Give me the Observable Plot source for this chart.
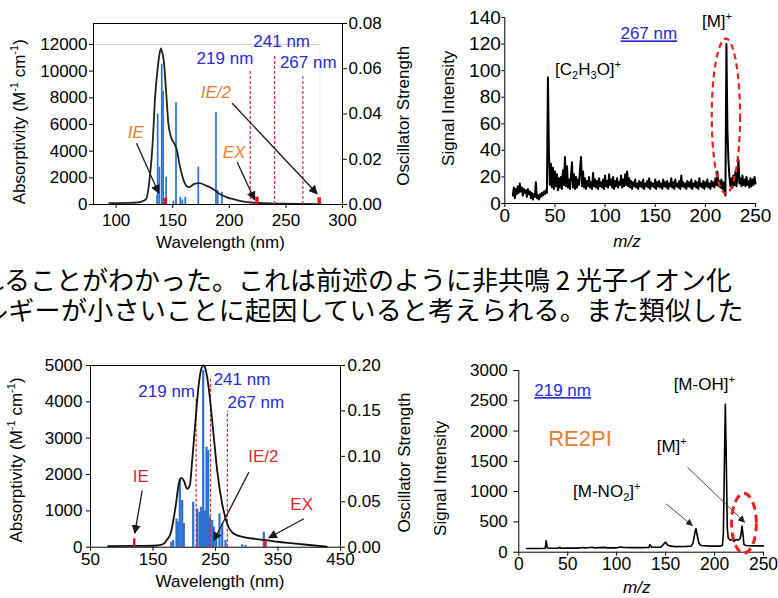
<!DOCTYPE html>
<html><head><meta charset="utf-8">
<script src="https://cdn.jsdelivr.net/npm/d3@7"></script>
<script src="https://cdn.jsdelivr.net/npm/@observablehq/plot@0.6"></script>
<style>
body{margin:0;background:#fff;}
#wrap{position:relative;width:778px;height:598px;overflow:hidden;background:#fff;}
#wrap svg{position:absolute;}
</style></head><body><div id="wrap"></div>
<script>
// ---------- Chart 1 (top-left): absorption spectrum + oscillator strengths ----------
const abs1Nm  = [94,110,118,122,126.5,129.4,132.4,134.4,136.8,137.8,139.5,141,142.1,144.1,146.2,148.5,151.5,153.8,155.9,158.8,161.8,164.7,169.1,173.5,179.4,185.3,191.1,198.5,204.4,210.3,222,248.5,281];
const abs1Val = [100,120,150,200,400,1800,4790,8030,10280,11000,11700,11300,10780,8530,6040,5040,4540,4040,3050,2040,1420,1300,1550,1600,1420,1180,800,520,380,250,130,60,30];
const osc1Nm  = [136.2,136.7,138.2,140.3,141.5,144.1,150.6,152.9,156.7,158.5,161.1,172.6,188.2,189.7,193.5];
const osc1Val = [0.004,0.040,0.0165,0.062,0.050,0.012,0.0015,0.045,0.0032,0.002,0.0032,0.0165,0.0407,0.0062,0.0054];
const laser1Nm  = [218.5,240,265];          // 219, 241, 267 nm
const laser1Top = [10100,11150,9580];
const mark1Nm  = [143.5,224.4,279.4];       // IE, EX, IE/2
const mark1Val = [470,550,500];
const c1XTicks = [100,150,200,250,300];
const c1YTicks = [0,2000,4000,6000,8000,10000,12000];
const c1OscTicks = [0,0.02,0.04,0.06,0.08];

// ---------- Chart 2 (top-right): mass spectrum at 267 nm (m/z 8..250, step 1) ----------
const ms267Start = 8;
const ms267Val = [
 6,12,4,11,7,13,8,15,9,12,6,11,8,
 10,5,11,7,9,4,8,3,7,5,
 16,4,6,3,7,5,8,6,9,7,10,8,
 95,
 38,14,30,12,27,11,24,
 13,22,10,19,12,20,11,25,14,35,
 13,28,12,18,11,21,31,12,22,11,
 20,12,18,14,26,35,13,24,12,19,
 11,17,13,20,12,16,11,23,13,18,
 12,17,11,19,13,16,12,18,11,21,
 13,17,12,22,14,18,12,20,11,17,
 13,19,12,16,14,21,12,18,13,22,
 14,24,13,19,12,17,11,16,13,18,
 12,15,11,17,13,16,12,18,11,15,
 13,17,12,19,11,16,13,15,12,18,
 11,16,13,17,12,15,11,18,13,16,
 12,17,11,15,13,19,12,16,11,18,
 13,15,12,17,11,21,13,16,12,15,
 11,17,13,16,12,18,11,15,13,17,
 12,16,11,19,13,15,12,17,11,16,
 13,18,12,15,11,17,13,16,12,19,
 14,24,13,17,12,18,11,16,9,6,
 120,
 55,33,20,13,19,12,21,14,24,
 13,20,33,15,19,13,21,14,18,13,
 20,14,17,12,19,13,18,14,20,15];
const c2XTicks = [0,50,100,150,200,250];
const c2YTicks = [0,20,40,60,80,100,120,140];

// ---------- Chart 3 (bottom-left): absorption spectrum + oscillator strengths ----------
const abs3Nm  = [78,120,150,160,167.3,172,178,186,191.3,195,199.3,204.7,208.9,212.7,218,223.3,228,230.5,233,236.7,242,247.3,252.7,260.7,268.7,279.3,295.3,327.3,348.7,370,400,428];
const abs3Val = [30,35,40,55,94,200,369,1100,1745,1910,1835,1607,1698,2386,3487,4496,4950,5000,4950,4678,3946,3027,2110,1194,644,369,275,204,150,110,60,18];
const osc3Nm  = [179.1,182.3,187.6,189.7,192.9,196.7,199.3,214.3,220.7,224.4,227.1,230.3,232.9,235.6,238.3,240.9,244.7,247.3,251.1,256.4,260.7,266,292.7,298,327.3];
const osc3Val = [0.0055,0.0074,0.031,0.0275,0.075,0.0514,0.026,0.0495,0.042,0.0385,0.044,0.1945,0.040,0.110,0.1064,0.033,0.0294,0.022,0.0129,0.0367,0.0257,0.0074,0.0026,0.002,0.0165];
const laser3Nm  = [219,242,269];
const laser3Top = [4128,4634,3743];
const mark3Nm  = [120,330];                 // IE, EX
const mark3Val = [230,180];
const c3XTicks = [50,150,250,350,450];
const c3YTicks = [0,1000,2000,3000,4000,5000];
const c3OscTicks = [0,0.05,0.10,0.15,0.20];

// ---------- Chart 4 (bottom-right): mass spectrum at 219 nm ----------
const ms219Mz  = [8,20,27,28,29,30,40,42,43,50,60,66,68,75,77,88,90,100,104,107,115,125,133,134,136,145,149,150,152,155,160,170,176,178,180,181,182,184,186,195,205,208,209,210,211,212,213,214,216,218,220,222,224,226,227,228,229,230,232,240,250];
const ms219Val = [60,62,65,190,80,65,66,80,66,68,68,78,70,82,72,80,72,72,85,78,75,75,80,125,82,82,150,165,120,100,92,95,100,150,330,390,300,150,110,100,100,110,300,1400,2440,1500,400,230,200,210,180,210,200,220,300,430,300,130,110,105,105];
const c4XTicks = [0,50,100,150,200,250];
const c4YTicks = [0,500,1000,1500,2000,2500,3000];

// ---------- texts ----------
const jpLine1 = "れることがわかった。これは前述のように非共鳴 2 光子イオン化";
const jpLine2 = "ルギーが小さいことに起因していると考えられる。また類似した";

// =====================================================================
const FONT = "'Liberation Sans', Arial, Helvetica, sans-serif";
const STICK = "#2a6fd4";
const LRED = "#e3262b";
const ORANGE = "#ee7b30";
const TBLUE = "#2a2ad8";
const wrap = document.getElementById("wrap");
const NS = "http://www.w3.org/2000/svg";

function place(svg, left, top) {
  svg.style.left = left + "px"; svg.style.top = top + "px";
  wrap.appendChild(svg); return svg;
}
function zip(a, b, ka, kb) { return a.map((v, i) => ({[ka]: v, [kb]: b[i]})); }
function arrowheads(svg, color, size) {
  const id = "ah" + Math.random().toString(36).slice(2);
  const defs = document.createElementNS(NS, "defs");
  defs.innerHTML = `<marker id="${id}" viewBox="0 0 10 10" refX="9" refY="5" markerWidth="${size}" markerHeight="${size}" markerUnits="userSpaceOnUse" orient="auto"><path d="M0,0L10,5L0,10z" fill="${color}"/></marker>`;
  svg.insertBefore(defs, svg.firstChild);
  svg.querySelectorAll('g[aria-label="link"] path, g[aria-label="link"] line').forEach(p => p.setAttribute("marker-end", `url(#${id})`));
}
function ellipse(svg, x1, x2, y1, y2, sw, dash) {
  const sx = svg.scale("x"), sy = svg.scale("y");
  const a = sx.apply(x1), b = sx.apply(x2), c = sy.apply(y1), d = sy.apply(y2);
  const e = document.createElementNS(NS, "ellipse");
  e.setAttribute("cx", (a + b) / 2); e.setAttribute("cy", (c + d) / 2);
  e.setAttribute("rx", Math.abs(b - a) / 2); e.setAttribute("ry", Math.abs(d - c) / 2);
  e.setAttribute("fill", "none"); e.setAttribute("stroke", "#e82222");
  e.setAttribute("stroke-width", sw); e.setAttribute("stroke-dasharray", dash);
  svg.appendChild(e);
}
const baseStyle = {fontFamily: FONT, color: "#000", background: "transparent", overflow: "visible"};

// ----- Chart 1 -----
const k1 = 13570 / 0.08;
const p1 = place(Plot.plot({
  width: 390, height: 225, marginLeft: 93, marginRight: 48, marginTop: 23, marginBottom: 21,
  style: baseStyle,
  x: {domain: [80, 300]}, y: {domain: [0, 13570]},
  marks: [
    Plot.ruleY([12000], {x1: 80, x2: 280, stroke: "#cfcfcf"}),
    Plot.ruleX([280], {y1: 0, y2: 12000, stroke: "#ececec"}),
    Plot.ruleX(zip(osc1Nm, osc1Val, "nm", "f"), {x: "nm", y1: 0, y2: d => d.f * k1, stroke: STICK, strokeWidth: 1.7}),
    Plot.line(zip(abs1Nm, abs1Val, "nm", "v"), {x: "nm", y: "v", stroke: "#222", strokeWidth: 1.8, curve: "monotone-x"}),
    Plot.ruleX(zip(laser1Nm, laser1Top, "nm", "t"), {x: "nm", y1: 0, y2: "t", stroke: LRED, strokeWidth: 1.2, strokeDasharray: "3,2"}),
    Plot.ruleX(zip(mark1Nm, mark1Val, "nm", "v"), {x: "nm", y1: 0, y2: "v", stroke: "#e8141c", strokeWidth: 3.5}),
    Plot.link([{x1: 118, y1: 4596, x2: 137.7, y2: 847}, {x1: 207, y1: 3171, x2: 222.3, y2: 352}, {x1: 202.5, y1: 7594, x2: 277.6, y2: 802}],
      {x1: "x1", y1: "y1", x2: "x2", y2: "y2", stroke: "#1a1a1a", strokeWidth: 1.3}),
    Plot.frame({stroke: "#000"}),
    Plot.axisX({ticks: c1XTicks, tickSize: 4, tickPadding: 5, tickFormat: "d", label: null, fontSize: 17}),
    Plot.axisY({ticks: c1YTicks, tickSize: 4, tickPadding: 2, tickFormat: "d", label: null, fontSize: 17}),
    Plot.axisY({anchor: "right", ticks: c1OscTicks.map(v => v * k1), tickFormat: d => (d / k1).toFixed(2), tickSize: 4, tickPadding: 2, label: null, fontSize: 17})
  ]
}), 0, 0);
arrowheads(p1, "#1a1a1a", 9);

// ----- Chart 2 -----
const p2 = place(Plot.plot({
  width: 388, height: 225, marginLeft: 114.3, marginRight: 23, marginTop: 17, marginBottom: 22,
  style: baseStyle,
  x: {domain: [0, 250]}, y: {domain: [0, 140]},
  marks: [
    Plot.line(ms267Val.map((v, i) => ({mz: ms267Start + i, v})), {x: "mz", y: "v", stroke: "#000", strokeWidth: 2}),
    Plot.ruleX([0], {stroke: "#000"}),
    Plot.ruleY([0], {stroke: "#000"}),
    Plot.axisX({ticks: c2XTicks, tickSize: 4, tickPadding: 1, tickFormat: "d", label: null, fontSize: 19}),
    Plot.axisY({ticks: c2YTicks, tickSize: 3, tickPadding: 1, tickFormat: "d", label: null, fontSize: 19})
  ]
}), 390, 0);
ellipse(p2, 206.9, 235.1, 7.1, 123.7, 2.2, "6,4");

// ----- Chart 3 -----
const k3 = 5000 / 0.2;
const p3 = place(Plot.plot({
  width: 390, height: 258, marginLeft: 90, marginRight: 50, marginTop: 25, marginBottom: 51.3,
  style: baseStyle,
  x: {domain: [50, 450]}, y: {domain: [0, 5000]},
  marks: [
    Plot.ruleX(zip(osc3Nm, osc3Val, "nm", "f"), {x: "nm", y1: 0, y2: d => d.f * k3, stroke: STICK, strokeWidth: 2.2}),
    Plot.ruleX(zip(laser3Nm, laser3Top, "nm", "t"), {x: "nm", y1: 0, y2: "t", stroke: LRED, strokeWidth: 1.2, strokeDasharray: "3,2"}),
    Plot.line(zip(abs3Nm, abs3Val, "nm", "v"), {x: "nm", y: "v", stroke: "#111", strokeWidth: 1.8, curve: "monotone-x"}),
    Plot.ruleX(zip(mark3Nm, mark3Val, "nm", "v"), {x: "nm", y1: 0, y2: "v", stroke: "#e8141c", strokeWidth: 2.5}),
    Plot.link([{x1: 132.7, y1: 1560, x2: 120.9, y2: 385}, {x1: 303.3, y1: 2064, x2: 247.3, y2: 184}, {x1: 391.3, y1: 782, x2: 335.3, y2: 259}],
      {x1: "x1", y1: "y1", x2: "x2", y2: "y2", stroke: "#1a1a1a", strokeWidth: 1.3}),
    Plot.frame({stroke: "#000"}),
    Plot.axisX({ticks: c3XTicks, tickSize: 4, tickPadding: 2, tickFormat: "d", label: null, fontSize: 17}),
    Plot.axisY({ticks: c3YTicks, tickSize: 4, tickPadding: 4, tickFormat: "d", label: null, fontSize: 17}),
    Plot.axisY({anchor: "right", ticks: c3OscTicks.map(v => v * k3), tickFormat: d => (d / k3).toFixed(2), tickSize: 4, tickPadding: 3, label: null, fontSize: 17})
  ]
}), 0, 340);
arrowheads(p3, "#1a1a1a", 9);

// ----- Chart 4 -----
const p4 = place(Plot.plot({
  width: 388, height: 258, marginLeft: 128.3, marginRight: 15, marginTop: 30, marginBottom: 46.3,
  style: baseStyle,
  x: {domain: [0, 250]}, y: {domain: [0, 3000]},
  marks: [
    Plot.line(zip(ms219Mz, ms219Val, "mz", "v"), {x: "mz", y: "v", stroke: "#000", strokeWidth: 1.6}),
    Plot.link([{x1: 150.4, y1: 799, x2: 177.3, y2: 441}, {x1: 172.3, y1: 1403, x2: 230.7, y2: 495}],
      {x1: "x1", y1: "y1", x2: "x2", y2: "y2", stroke: "#333", strokeWidth: 0.9}),
    Plot.ruleX([0], {stroke: "#000"}),
    Plot.ruleY([0], {stroke: "#000"}),
    Plot.axisX({ticks: c4XTicks, tickSize: 4, tickPadding: 1, tickFormat: "d", label: null, fontSize: 17.5}),
    Plot.axisY({ticks: c4YTicks, tickSize: 5, tickPadding: 6, tickFormat: "d", label: null, fontSize: 17})
  ]
}), 390, 340);
arrowheads(p4, "#222", 7);
ellipse(p4, 217.9, 243.2, -26, 964, 3, "8,5");

// ----- overlay texts -----
const ov = document.createElementNS(NS, "svg");
ov.setAttribute("width", 778); ov.setAttribute("height", 598);
ov.style.cssText = "left:0;top:0;overflow:visible;pointer-events:none";
wrap.appendChild(ov);

function addText(x, y, parts, o = {}) {
  const fs = o.size || 17;
  const t = document.createElementNS(NS, "text");
  t.setAttribute("font-family", o.font || FONT);
  t.setAttribute("font-size", fs);
  t.setAttribute("fill", o.color || "#000");
  t.setAttribute("text-anchor", o.anchor || "middle");
  if (o.italic) t.setAttribute("font-style", "italic");
  if (o.underline) t.setAttribute("text-decoration", "underline");
  if (o.spacing) t.setAttribute("letter-spacing", o.spacing);
  if (o.rotate) { t.setAttribute("transform", `translate(${x},${y}) rotate(${o.rotate})`); t.setAttribute("x", 0); t.setAttribute("y", 0); }
  else { t.setAttribute("x", x); t.setAttribute("y", y); }
  let shift = 0;
  const list = Array.isArray(parts) ? parts : [[parts]];
  for (const [s, kind] of list) {
    const ts = document.createElementNS(NS, "tspan");
    const target = kind === "sup" ? -0.42 * fs : kind === "sub" ? 0.25 * fs : 0;
    ts.setAttribute("dy", target - shift); shift = target;
    if (kind) ts.setAttribute("font-size", fs * 0.65);
    ts.textContent = s;
    t.appendChild(ts);
  }
  ov.appendChild(t);
}
function at(p, left, top, x, y) { return [left + p.scale("x").apply(x), top + p.scale("y").apply(y)]; }
function dataText(p, left, top, x, y, parts, o) { const [px, py] = at(p, left, top, x, y); addText(px, py, parts, o); }

const absTitle = [["Absorptivity (M"], ["-1", "sup"], [" cm"], ["-1", "sup"], [")"]];
// chart 1
addText(25, 121.7, absTitle, {rotate: -90});
addText(220.5, 248.3, "Wavelength (nm)");
addText(409, 115.8, "Oscillator Strength", {rotate: -90});
dataText(p1, 0, 0, 196.6, 10496, "219 nm", {color: TBLUE});
dataText(p1, 0, 0, 246.7, 11793, "241 nm", {color: TBLUE});
dataText(p1, 0, 0, 270.2, 10173, "267 nm", {color: TBLUE});
dataText(p1, 0, 0, 117.8, 4925, "IE", {color: ORANGE, italic: true});
dataText(p1, 0, 0, 188.5, 7924, "IE/2", {color: ORANGE, italic: true});
dataText(p1, 0, 0, 204.6, 3426, "EX", {color: ORANGE, italic: true});
// chart 2
addText(454, 108.3, "Signal Intensity", {rotate: -90});
addText(627, 246.7, "m/z", {italic: true});
dataText(p2, 390, 0, 144.1, 123.2, "267 nm", {color: TBLUE, underline: true});
dataText(p2, 390, 0, 212.1, 132.5, [["[M]"], ["+", "sup"]]);
dataText(p2, 390, 0, 83.5, 96.3, [["[C"], ["2", "sub"], ["H"], ["3", "sub"], ["O]"], ["+", "sup"]]);
// chart 3
addText(22.4, 460, absTitle, {rotate: -90});
addText(220, 587, "Wavelength (nm)");
addText(409.5, 462.5, "Oscillator Strength", {rotate: -90});
dataText(p3, 0, 340, 172.7, 4128, "219 nm", {color: TBLUE});
dataText(p3, 0, 340, 293.2, 4450, "241 nm", {color: TBLUE});
dataText(p3, 0, 340, 315.3, 3809, "267 nm", {color: TBLUE});
dataText(p3, 0, 340, 131.3, 1789, "IE", {color: LRED});
dataText(p3, 0, 340, 327.3, 2339, "IE/2", {color: LRED});
dataText(p3, 0, 340, 388.7, 1010, "EX", {color: LRED});
// chart 4
addText(445.5, 478.3, "Signal Intensity", {rotate: -90});
addText(636.7, 593, "m/z", {italic: true});
dataText(p4, 390, 340, 45.3, 2571, "219 nm", {color: TBLUE, underline: true});
dataText(p4, 390, 340, 63, 1745, "RE2PI", {color: ORANGE, size: 22});
dataText(p4, 390, 340, 190, 2670, [["[M-OH]"], ["+", "sup"]]);
dataText(p4, 390, 340, 156.8, 1646, [["[M]"], ["+", "sup"]]);
dataText(p4, 390, 340, 90.4, 903, [["[M-NO"], ["2", "sub"], ["]"], ["+", "sup"]]);
// Japanese body text
const JP = "'Noto Sans CJK JP', 'Noto Sans CJK SC', sans-serif";
addText(-22, 290, jpLine1, {font: JP, size: 26, anchor: "start"});
addText(-18, 320, jpLine2, {font: JP, size: 26, anchor: "start", spacing: 0.3});
</script></body></html>
